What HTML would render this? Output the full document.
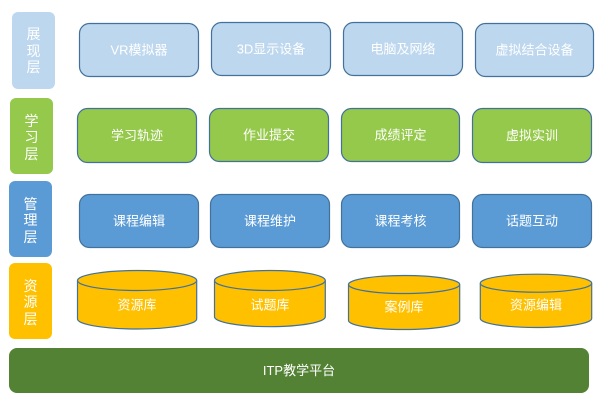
<!DOCTYPE html>
<html>
<head>
<meta charset="utf-8">
<style>
  html,body{margin:0;padding:0;background:#fff;}
  body{width:606px;height:402px;overflow:hidden;}
  svg{display:block;}
  text{font-family:"Liberation Sans","Noto Sans CJK SC","WenQuanYi Zen Hei",sans-serif;fill:#fff;}
</style>
</head>
<body>
<svg width="606" height="402" viewBox="0 0 606 402" xmlns="http://www.w3.org/2000/svg">
  <!-- Left labels -->
  <rect x="12" y="12" width="43" height="77" rx="6" fill="#BDD7EE"/>
  <g font-size="14" text-anchor="middle" dominant-baseline="central">
    <text x="33.5" y="34">展</text>
    <text x="33.5" y="51">现</text>
    <text x="33.5" y="67">层</text>
  </g>
  <rect x="10" y="98" width="43" height="76" rx="6" fill="#95C94B"/>
  <g font-size="14" text-anchor="middle" dominant-baseline="central">
    <text x="31.5" y="121">学</text>
    <text x="31.5" y="137">习</text>
    <text x="31.5" y="154">层</text>
  </g>
  <rect x="9" y="181" width="43" height="76" rx="6" fill="#5B9BD5"/>
  <g font-size="14" text-anchor="middle" dominant-baseline="central">
    <text x="30.5" y="204">管</text>
    <text x="30.5" y="220">理</text>
    <text x="30.5" y="237">层</text>
  </g>
  <rect x="9" y="263" width="43" height="76" rx="6" fill="#FFC000"/>
  <g font-size="14" text-anchor="middle" dominant-baseline="central">
    <text x="30.5" y="286">资</text>
    <text x="30.5" y="302">源</text>
    <text x="30.5" y="319">层</text>
  </g>

  <!-- Row 1: presentation -->
  <g fill="#BDD7EE" stroke="#41719C" stroke-width="1.2">
    <rect x="79.5" y="23.5" width="119" height="53" rx="10"/>
    <rect x="211.5" y="22.5" width="119" height="53" rx="10"/>
    <rect x="343.5" y="22.5" width="119" height="53" rx="10"/>
    <rect x="475.5" y="23.5" width="118" height="53" rx="10"/>
  </g>
  <g font-size="13" text-anchor="middle" dominant-baseline="central">
    <text x="139" y="50">VR模拟器</text>
    <text x="271" y="49">3D显示设备</text>
    <text x="403" y="49">电脑及网络</text>
    <text x="534.5" y="50">虚拟结合设备</text>
  </g>

  <!-- Row 2: learning -->
  <g fill="#95C94B" stroke="#41719C" stroke-width="1.2">
    <rect x="77.5" y="108.5" width="119" height="54" rx="10"/>
    <rect x="209.5" y="108.5" width="119" height="53" rx="10"/>
    <rect x="341.5" y="108.5" width="118" height="53" rx="10"/>
    <rect x="472.5" y="108.5" width="119" height="54" rx="10"/>
  </g>
  <g font-size="13" text-anchor="middle" dominant-baseline="central">
    <text x="137" y="135.5">学习轨迹</text>
    <text x="269" y="135">作业提交</text>
    <text x="400.5" y="135">成绩评定</text>
    <text x="532" y="135.5">虚拟实训</text>
  </g>

  <!-- Row 3: management -->
  <g fill="#5B9BD5" stroke="#41719C" stroke-width="1.2">
    <rect x="79.5" y="194.5" width="119" height="53" rx="10"/>
    <rect x="210.5" y="194.5" width="119" height="53" rx="10"/>
    <rect x="341.5" y="194.5" width="118" height="53" rx="10"/>
    <rect x="472.5" y="194.5" width="119" height="53" rx="10"/>
  </g>
  <g font-size="13" text-anchor="middle" dominant-baseline="central">
    <text x="139" y="221">课程编辑</text>
    <text x="270" y="221">课程维护</text>
    <text x="400.5" y="221">课程考核</text>
    <text x="532" y="221">话题互动</text>
  </g>

  <!-- Row 4: cylinders -->
  <g fill="#FFC000" stroke="#41719C" stroke-width="1.2">
    <path d="M77.5 280.5 L77.5 319 A59.6 10 0 0 0 196.7 319 L196.7 280.5"/>
    <ellipse cx="137.1" cy="280.5" rx="59.6" ry="10"/>
    <path d="M214.5 280.5 L214.5 316.7 A55.4 10 0 0 0 325.3 316.7 L325.3 280.5"/>
    <ellipse cx="269.9" cy="280.5" rx="55.4" ry="10"/>
    <path d="M348.5 284.5 L348.5 320.5 A55.6 9 0 0 0 459.7 320.5 L459.7 284.5"/>
    <ellipse cx="404.1" cy="284.5" rx="55.6" ry="9"/>
    <path d="M480.3 283.2 L480.3 318.5 A55.7 9 0 0 0 591.7 318.5 L591.7 283.2"/>
    <ellipse cx="536" cy="283.2" rx="55.7" ry="9"/>
  </g>
  <g font-size="13" text-anchor="middle" dominant-baseline="central">
    <text x="137" y="305">资源库</text>
    <text x="270" y="305">试题库</text>
    <text x="404" y="307">案例库</text>
    <text x="536" y="305">资源编辑</text>
  </g>

  <!-- Platform -->
  <rect x="9" y="348" width="580" height="45" rx="8" fill="#548235"/>
  <text x="299" y="370.5" font-size="13" text-anchor="middle" dominant-baseline="central">ITP教学平台</text>
</svg>
</body>
</html>
